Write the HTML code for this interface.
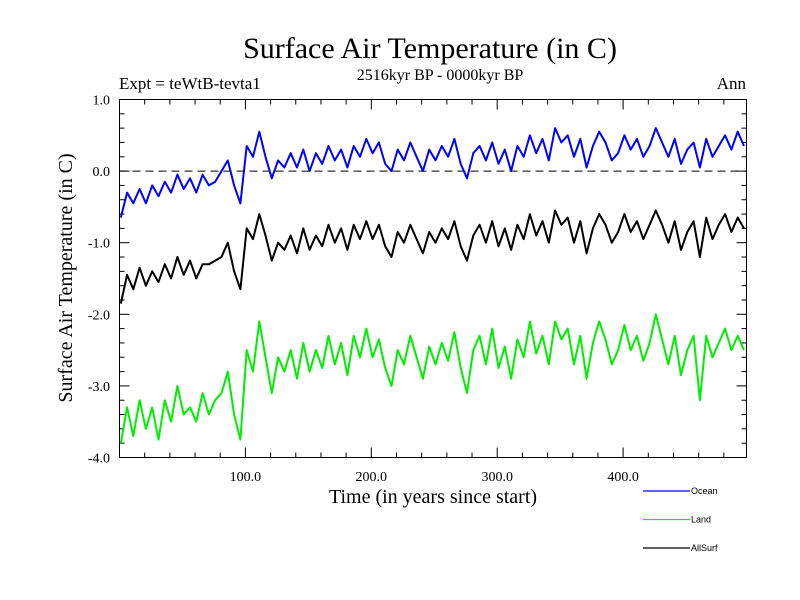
<!DOCTYPE html>
<html><head><meta charset="utf-8"><style>
body{margin:0;background:#fff}
svg{display:block}
text{font-family:"Liberation Serif",serif;fill:#000}
.leg{font-family:"Liberation Sans",sans-serif;font-size:9px}
</style></head><body>
<svg id="chart" width="800" height="600" xmlns="http://www.w3.org/2000/svg">
<text x="430" y="58" font-size="30" text-anchor="middle">Surface Air Temperature (in C)</text>
<text x="440" y="80" font-size="16" text-anchor="middle">2516kyr BP - 0000kyr BP</text>
<text x="119" y="89" font-size="17">Expt = teWtB-tevta1</text>
<text x="746" y="89" font-size="17" text-anchor="end">Ann</text>
<text x="433" y="503" font-size="20" text-anchor="middle">Time (in years since start)</text>
<text transform="translate(72,278) rotate(-90)" font-size="20" text-anchor="middle">Surface Air Temperature (in C)</text>
<g id="ticks"></g>
<g id="series"></g>
<rect x="119.5" y="99.5" width="627" height="358" fill="none" stroke="#000" stroke-width="1"/>
<g id="legend"></g>
</svg>
<script>
const years = [];
for (let i = 0; i < 100; i++) years.push(1 + 5 * i);
const ocean = [-0.65,-0.3,-0.45,-0.25,-0.45,-0.2,-0.35,-0.15,-0.3,-0.05,-0.25,-0.1,-0.3,-0.05,-0.2,-0.15,0.0,0.15,-0.2,-0.45,
0.35,0.2,0.55,0.2,-0.1,0.15,0.05,0.25,0.05,0.3,0.0,0.25,0.1,0.35,0.15,0.3,0.05,0.35,0.2,0.45,
0.25,0.4,0.1,0.0,0.3,0.15,0.4,0.2,0.0,0.3,0.15,0.35,0.2,0.45,0.1,-0.1,0.25,0.35,0.15,0.4,
0.1,0.3,0.0,0.35,0.2,0.5,0.25,0.45,0.15,0.6,0.4,0.5,0.2,0.45,0.05,0.35,0.55,0.4,0.15,0.25,
0.5,0.3,0.45,0.2,0.35,0.6,0.4,0.2,0.45,0.1,0.3,0.4,0.05,0.45,0.2,0.35,0.5,0.3,0.55,0.35];
const allSurf = [-1.85,-1.45,-1.65,-1.35,-1.6,-1.4,-1.55,-1.3,-1.5,-1.2,-1.45,-1.25,-1.5,-1.3,-1.3,-1.25,-1.2,-1.0,-1.4,-1.65,
-0.8,-0.95,-0.6,-0.9,-1.25,-1.0,-1.1,-0.9,-1.15,-0.8,-1.1,-0.9,-1.05,-0.75,-1.0,-0.8,-1.1,-0.75,-0.95,-0.7,
-0.95,-0.75,-1.05,-1.2,-0.85,-1.0,-0.75,-0.95,-1.15,-0.85,-1.0,-0.8,-0.95,-0.7,-1.05,-1.25,-0.9,-0.75,-1.0,-0.7,
-1.05,-0.8,-1.1,-0.75,-0.95,-0.6,-0.9,-0.7,-1.0,-0.55,-0.75,-0.65,-1.0,-0.7,-1.15,-0.8,-0.6,-0.75,-1.0,-0.85,
-0.6,-0.85,-0.7,-0.95,-0.75,-0.55,-0.75,-1.0,-0.7,-1.1,-0.85,-0.7,-1.2,-0.65,-0.95,-0.75,-0.6,-0.85,-0.65,-0.8];
const land = [-3.8,-3.3,-3.7,-3.2,-3.6,-3.3,-3.75,-3.2,-3.5,-3.0,-3.4,-3.3,-3.5,-3.1,-3.4,-3.2,-3.1,-2.8,-3.4,-3.75,
-2.5,-2.8,-2.1,-2.6,-3.1,-2.6,-2.8,-2.5,-2.9,-2.4,-2.8,-2.5,-2.75,-2.3,-2.7,-2.4,-2.85,-2.3,-2.6,-2.2,
-2.6,-2.35,-2.75,-3.0,-2.5,-2.7,-2.3,-2.6,-2.9,-2.45,-2.7,-2.4,-2.65,-2.25,-2.75,-3.1,-2.5,-2.3,-2.7,-2.2,
-2.75,-2.45,-2.9,-2.35,-2.6,-2.1,-2.55,-2.3,-2.7,-2.1,-2.35,-2.2,-2.7,-2.3,-2.9,-2.4,-2.1,-2.35,-2.7,-2.5,
-2.15,-2.5,-2.3,-2.65,-2.4,-2.0,-2.35,-2.7,-2.3,-2.85,-2.5,-2.3,-3.2,-2.3,-2.6,-2.4,-2.2,-2.5,-2.3,-2.5];
const yTickValues = [1.0, 0.0, -1.0, -2.0, -3.0, -4.0];
const yTickLabels = ["1.0", "0.0", "-1.0", "-2.0", "-3.0", "-4.0"];
const xTickValues = [100, 200, 300, 400];
const xTickLabels = ["100.0", "200.0", "300.0", "400.0"];
const legendNames = ["Ocean", "Land", "AllSurf"];
const legendColors = ["#0000ff", "#00ee00", "#000000"];

const NS = "http://www.w3.org/2000/svg";
const X0 = 119.5, X1 = 746.5, Y0 = 457.5, Y1 = 99.5;
const xMin = 0, xMax = 498, yMin = -4, yMax = 1;
function xs(v){ return X0 + (v - xMin) / (xMax - xMin) * (X1 - X0); }
function ys(v){ return Y0 - (v - yMin) / (yMax - yMin) * (Y0 - Y1); }
function mk(tag, attrs, parent){ const e = document.createElementNS(NS, tag); for (const k in attrs) e.setAttribute(k, attrs[k]); parent.appendChild(e); return e; }

const tg = document.getElementById("ticks");
// minor y ticks every 0.2
for (let v = yMin; v <= yMax + 1e-9; v += 0.2) {
  const major = Math.abs(v - Math.round(v)) < 1e-6;
  const len = major ? 10 : 5;
  const t1 = mk("line", {x1: X0, x2: X0 + len, y1: ys(v), y2: ys(v), stroke: "#000"}, tg);
  
  
  const t2 = mk("line", {x1: X1, x2: X1 - len, y1: ys(v), y2: ys(v), stroke: "#000"}, tg);
  
  
}
for (let v = 20; v < xMax; v += 20) {
  const major = v % 100 === 0;
  const len = major ? 10 : 5;
  const t1 = mk("line", {x1: xs(v), x2: xs(v), y1: Y0, y2: Y0 - len, stroke: "#000"}, tg);
  
  
  const t2 = mk("line", {x1: xs(v), x2: xs(v), y1: Y1, y2: Y1 + len, stroke: "#000"}, tg);
  
  
}
yTickValues.forEach((v, i) => {
  const t = mk("text", {x: 110, y: ys(v) + 5, "font-size": 14, "text-anchor": "end"}, tg);
  t.textContent = yTickLabels[i];
  
  
});
xTickValues.forEach((v, i) => {
  const t = mk("text", {x: xs(v), y: 481, "font-size": 14, "text-anchor": "middle"}, tg);
  t.textContent = xTickLabels[i];
  
  
});
const zl = mk("line", {x1: X0, x2: X1, y1: ys(0), y2: ys(0), stroke: "#000", "stroke-dasharray": "8,5"}, tg);



const sg = document.getElementById("series");
[[ocean, "ocean-line"], [land, "land-line"], [allSurf, "allsurf-line"]].forEach(([arr, name], k) => {
  const col = name === "ocean-line" ? legendColors[0] : name === "land-line" ? legendColors[1] : legendColors[2];
  const d = arr.map((v, i) => (i ? "L" : "M") + xs(years[i]).toFixed(1) + "," + ys(v).toFixed(1)).join("");
  const p = mk("path", {d: d, fill: "none", stroke: col, "stroke-width": 2, "stroke-linejoin": "round"}, sg);
  
  
});

const lg = document.getElementById("legend");
legendNames.forEach((n, i) => {
  const y = 491 + i * 28.5;
  const l = mk("line", {x1: 643, x2: 690, y1: y, y2: y, stroke: legendColors[i], "stroke-width": 1.2}, lg);
  
  
  const t = mk("text", {x: 691, y: y + 3, class: "leg"}, lg);
  t.textContent = n;
  
  
});
</script>
</body></html>
